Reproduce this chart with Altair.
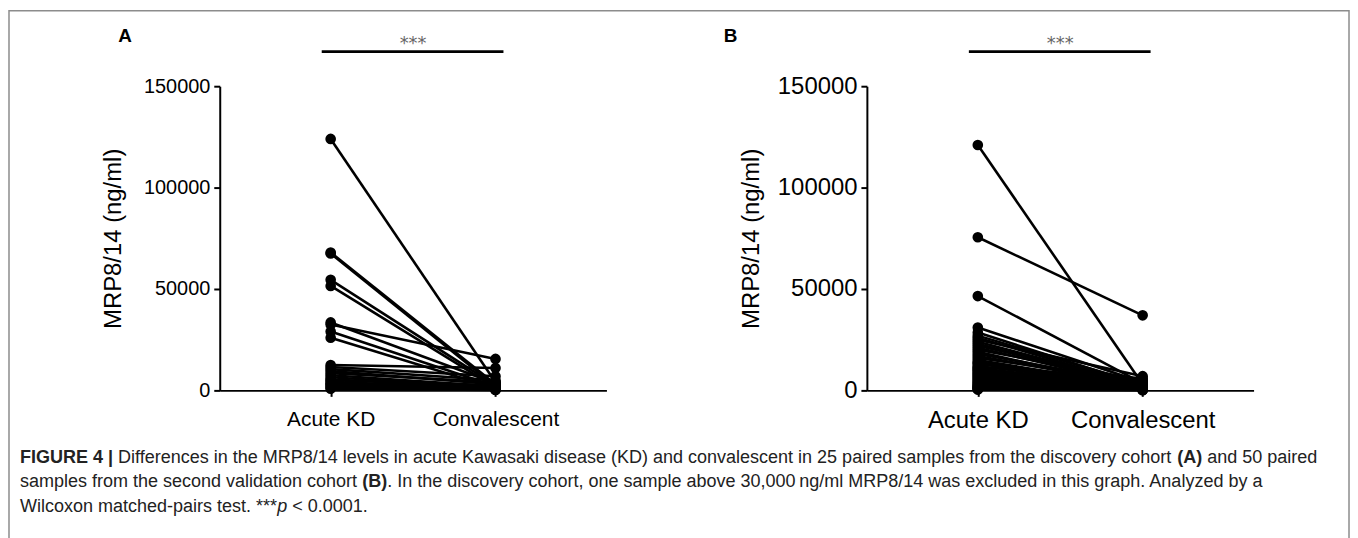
import altair as alt
import pandas as pd

FONT = "Liberation Sans"

groups = ["Acute KD", "Convalescent"]
y_ticks = [0, 50000, 100000, 150000]

# Panel A: discovery cohort (25 pairs)
a_acute = [124000, 68000, 67500, 54500, 51500, 32500, 33500, 29000, 26000,
           12500, 11500, 10500, 9500, 8500, 7500, 6500, 5500, 5000, 4200,
           3500, 3000, 2500, 1800, 1200, 800]
a_conv = [4000, 3000, 2000, 2500, 1500, 15500, 3500, 2000, 1000,
          11000, 7000, 5000, 3000, 4000, 2000, 1500, 1000, 2500, 800,
          1200, 600, 400, 300, 500, 200]

# Panel B: second validation cohort (50 pairs)
b_acute = [121000, 75500, 46500, 31000, 28500, 27000, 26000, 25000, 24000, 23000,
           22000, 21000, 20000, 19000, 18000, 17000, 16000, 15000, 14000, 13500,
           13000, 12000, 11500, 11000, 10500, 10000, 9500, 9000, 8500, 8000,
           7500, 7000, 6500, 6000, 5500, 5000, 4500, 4000, 3600, 3200,
           2800, 2400, 2000, 1800, 1500, 1200, 1000, 800, 600, 400]
b_conv = [3000, 37000, 3500, 4000, 2500, 3000, 2000, 7000, 2500, 1500,
          3500, 2000, 5000, 1000, 3000, 2000, 4500, 1500, 2500, 1000,
          3000, 2000, 6000, 1500, 1000, 2500, 500, 3000, 1500, 2000,
          1000, 4000, 800, 1800, 1200, 2200, 600, 1400, 900, 500,
          1600, 300, 1100, 700, 400, 800, 200, 600, 300, 100]

sig_value = 167000
star_value = 170800

caption_lines = [
    [("FIGURE 4 |", "bold"), (" Differences in the MRP8/14 levels in acute Kawasaki disease (KD) and convalescent in 25 paired samples from the discovery cohort ", "normal"),
     ("(A)", "bold"), (" and 50 paired", "normal")],
    [("samples from the second validation cohort ", "normal"), ("(B)", "bold"),
     (". In the discovery cohort, one sample above 30,000\u2009ng/ml MRP8/14 was excluded in this graph. Analyzed by a", "normal")],
    [("Wilcoxon matched-pairs test. ***", "normal"), ("p", "italic"), (" < 0.0001.", "normal")],
]

# approximate Arial / Liberation Sans advance widths (per 1000 em)
REG = {" ": 278, "!": 278, "(": 333, ")": 333, "*": 389, ",": 278, "-": 333, ".": 278,
       "/": 278, ":": 278, "<": 584, "|": 260, "\u2009": 167}
for c in "0123456789":
    REG[c] = 556
REG.update(dict(zip("ABCDEFGHIJKLMNOPQRSTUVWXYZ",
                    [667, 667, 722, 722, 667, 611, 778, 722, 278, 500, 667, 556, 833,
                     722, 778, 667, 778, 722, 667, 611, 722, 667, 944, 667, 667, 611])))
REG.update(dict(zip("abcdefghijklmnopqrstuvwxyz",
                    [556, 556, 500, 556, 556, 278, 556, 556, 222, 222, 500, 222, 833,
                     556, 556, 556, 556, 333, 500, 278, 556, 500, 722, 500, 500, 500])))
BOLD = dict(REG)
BOLD.update({"A": 722, "B": 722, "|": 280, "R": 722, "U": 722, "G": 778})


def em_width(text, weight):
    table = BOLD if weight == "bold" else REG
    return sum(table.get(c, 556) for c in text) / 1000.0


line1_em = sum(em_width(t, w) for t, w in caption_lines[0])
cap_fs = round(1305 / line1_em, 2)


def long_df(acute, conv):
    rows = []
    for i, (u, v) in enumerate(zip(acute, conv)):
        rows.append({"pair": i, "group": groups[0], "value": u})
        rows.append({"pair": i, "group": groups[1], "value": v})
    return pd.DataFrame(rows)


W, H = 389, 306


def panel(acute, conv, letter, letter_x, ylab_fs, xlab_fs, title_pad, extras):
    df = long_df(acute, conv)
    xs = alt.Scale(type="point", domain=groups, padding=0.673)
    ys = alt.Scale(domain=[0, 150000], nice=False, zero=True)
    xenc = alt.X("group:N", scale=xs, sort=groups,
                 axis=alt.Axis(title=None, labelAngle=0, labelFontSize=xlab_fs, labelFont=FONT,
                               labelColor="black", domainColor="black", domainWidth=2,
                               tickColor="black", tickWidth=2, tickSize=6, labelPadding=12,
                               grid=False))
    yenc = alt.Y("value:Q", scale=ys,
                 axis=alt.Axis(title="MRP8/14 (ng/ml)", values=y_ticks, format="d",
                               labelFontSize=ylab_fs, labelFont=FONT, labelColor="black",
                               titleFont=FONT, titleFontSize=24, titleFontWeight="normal",
                               titleColor="black", titlePadding=title_pad,
                               domainColor="black", domainWidth=2, tickColor="black",
                               tickWidth=2, tickSize=6, labelPadding=4, grid=False))
    base = alt.Chart(df)
    lines = base.mark_line(color="black", strokeWidth=2.6).encode(x=xenc, y=yenc, detail="pair:N")
    pts = base.mark_circle(size=115, color="black", opacity=1).encode(x=xenc, y=yenc)

    sig_df = pd.DataFrame({"group": [groups[0]], "group2": [groups[1]], "value": [sig_value]})
    sig = alt.Chart(sig_df).mark_rule(color="black", strokeWidth=2.8, xOffset=-9, x2Offset=8).encode(
        x=xenc, x2="group2:N", y=yenc)
    stars = alt.Chart(sig_df).mark_text(text="***", font="DejaVu Sans", fontSize=18, color="#666666",
                                        baseline="middle", align="center").encode(
        x=alt.value(W / 2), y=alt.datum(star_value))
    let = alt.Chart(sig_df).mark_text(text=letter, font=FONT, fontSize=19, fontWeight="bold",
                                      color="black", align="left", baseline="middle").encode(
        x=alt.value(letter_x), y=alt.value(-50))
    return alt.layer(*extras, lines, pts, sig, stars, let).properties(width=W, height=H)


# decorations living in panel A's coordinate frame
one = pd.DataFrame({"k": [0]})
border = alt.Chart(one).mark_rect(fillOpacity=0, stroke="#8c8c8c", strokeWidth=1.5).encode(
    x=alt.value(-212), x2=alt.value(1136), y=alt.value(-76), y2=alt.value(480))

cap_marks = []
cap_x0 = -201
cap_y = [374, 398, 423]
for li, segs in enumerate(caption_lines):
    off = 0.0
    for text, style in segs:
        lead = text[: len(text) - len(text.lstrip(" "))]
        shown = text.strip(" ")
        x_here = cap_x0 + off + em_width(lead, style) * cap_fs
        kw = dict(text=shown, font=FONT, fontSize=cap_fs, color="#222222", align="left", baseline="middle")
        if style == "bold":
            kw["fontWeight"] = "bold"
        if style == "italic":
            kw["fontStyle"] = "italic"
        cap_marks.append(alt.Chart(one).mark_text(**kw).encode(
            x=alt.value(round(x_here, 2)), y=alt.value(cap_y[li])))
        off += em_width(text, style) * cap_fs

panel_a = panel(a_acute, a_conv, "A", -102, 20, 21, 18, [border] + cap_marks)
panel_b = panel(b_acute, b_conv, "B", -144, 24, 24, 14, [])

chart = alt.hconcat(panel_a, panel_b, spacing=262, bounds="flush").properties(
    padding={"left": 0, "top": 0, "right": 0, "bottom": 0}
).configure(font=FONT).configure_view(stroke=None, strokeWidth=0)

chart.save("out.html", embed_options={"renderer": "svg", "actions": False})
